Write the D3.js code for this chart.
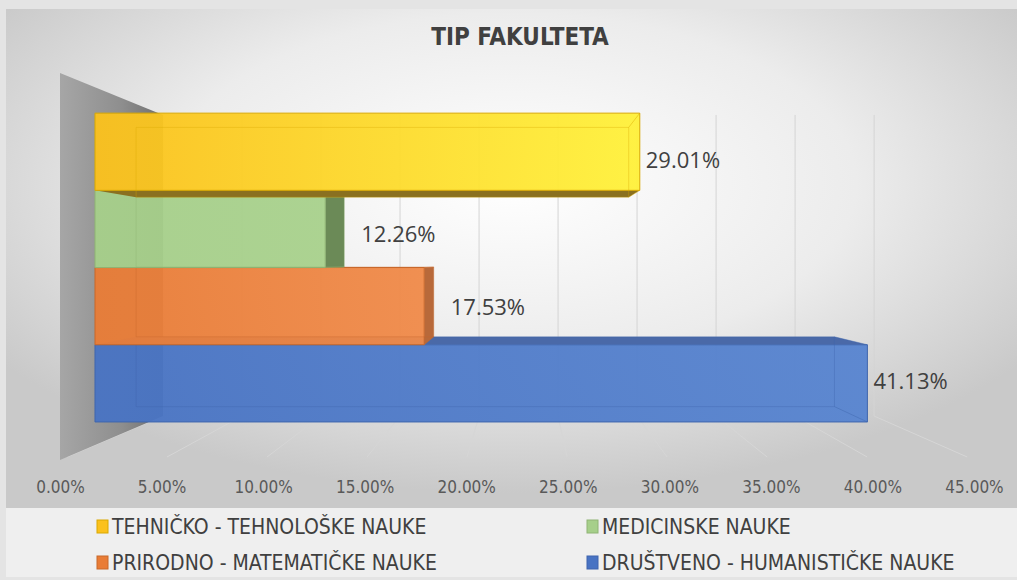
<!DOCTYPE html>
<html>
<head>
<meta charset="utf-8">
<script src="https://cdn.jsdelivr.net/npm/d3@7"></script>
<style>
  body { margin: 0; background: #e4e4e4; }
  svg { display: block; }
  .tick text { font-family: "Liberation Sans Narrow", "DejaVu Sans Condensed", "Open Sans", sans-serif; }
</style>
</head>
<body>
<div id="chart"></div>
<script>
const categories = [
  "TEHNIČKO - TEHNOLOŠKE NAUKE",
  "MEDICINSKE NAUKE",
  "PRIRODNO - MATEMATIČKE NAUKE",
  "DRUŠTVENO - HUMANISTIČKE NAUKE"
];
const values = [29.01, 12.26, 17.53, 41.13];
const tickValues = [0, 5, 10, 15, 20, 25, 30, 35, 40, 45];
const title = "TIP FAKULTETA";

// styling per series
const palette = [
  { left: "#fbc11c", right: "#fff13a", side: "#c8a816", cap: "#8a7020", edge: "#d9a800" },
  { left: "#a6cf8a", right: "#a8d18c", side: "#6b8a57", cap: "#86a86e", edge: "#8fb474" },
  { left: "#e97c36", right: "#f08a49", side: "#b8693a", cap: "#c06a30", edge: "#c8682a" },
  { left: "#4873c3", right: "#5784d0", side: "#4a6cb0", cap: "#4a69a8", edge: "#3f65ad" }
];

const W = 1017, H = 580;
// perspective: eye point and relative depth of each plane (1 = label plane)
const vx = 524, vy = 262;
const fFront = 0.9246, fBack = 0.836, fWall = 0.778;

const svg = d3.select("#chart")
  .append("svg")
  .attr("width", W)
  .attr("height", H);

const defs = svg.append("defs");

const bg = defs.append("radialGradient")
  .attr("id", "bg")
  .attr("cx", "50%").attr("cy", "35%").attr("r", "62%");
bg.append("stop").attr("offset", "0%").attr("stop-color", "#ffffff");
bg.append("stop").attr("offset", "55%").attr("stop-color", "#ececec");
bg.append("stop").attr("offset", "100%").attr("stop-color", "#c9c9c9");

const wallGrad = defs.append("linearGradient")
  .attr("id", "wall")
  .attr("x1", "0%").attr("x2", "100%").attr("y1", "0%").attr("y2", "0%");
wallGrad.append("stop").attr("offset", "0%").attr("stop-color", "#a6a6a6");
wallGrad.append("stop").attr("offset", "60%").attr("stop-color", "#8e8e8e");
wallGrad.append("stop").attr("offset", "100%").attr("stop-color", "#6e6e6e");

palette.forEach(function(p, i) {
  const g = defs.append("linearGradient")
    .attr("id", "bar" + i)
    .attr("x1", "0%").attr("x2", "100%").attr("y1", "0%").attr("y2", "0%");
  g.append("stop").attr("offset", "0%").attr("stop-color", p.left);
  g.append("stop").attr("offset", "100%").attr("stop-color", p.right);
});

// backgrounds
svg.append("rect")
  .attr("x", 6).attr("y", 9)
  .attr("width", W - 6).attr("height", 499)
  .attr("fill", "url(#bg)");

svg.append("rect")
  .attr("x", 6).attr("y", 508)
  .attr("width", W - 6).attr("height", 69)
  .attr("fill", "#efefef");

// scales in the label plane
const xScale = d3.scaleLinear().domain([0, 45]).range([60, 974]);
const yScale = d3.scaleBand().domain(categories).range([101, 435]).padding(0);
const wallTop = 73, wallBottom = 460;

function P(v, Y, f) {
  return [vx + f * (xScale(v) - vx), vy + f * (Y - vy)];
}
function poly(pts) {
  return pts.map(p => p.join(",")).join(" ");
}

// back wall gridlines
svg.append("g")
  .selectAll("line")
  .data(tickValues)
  .join("line")
  .attr("x1", d => P(d, wallTop, fWall)[0])
  .attr("y1", d => P(d, wallTop, fWall)[1])
  .attr("x2", d => P(d, wallBottom, fWall)[0])
  .attr("y2", d => P(d, wallBottom, fWall)[1])
  .attr("stroke", "#d4d4d4")
  .attr("stroke-width", 1);

// floor gridlines
svg.append("g")
  .selectAll("line")
  .data(tickValues)
  .join("line")
  .attr("x1", d => P(d, wallBottom, fWall)[0])
  .attr("y1", d => P(d, wallBottom, fWall)[1])
  .attr("x2", d => P(d, wallBottom, 0.985)[0])
  .attr("y2", d => P(d, wallBottom, 0.985)[1])
  .attr("stroke", "#d6d6d6")
  .attr("stroke-width", 1);

// side wall
svg.append("polygon")
  .attr("points", poly([
    P(0, wallTop, 1), P(0, wallTop, fWall),
    P(0, wallBottom, fWall), P(0, wallBottom, 1)
  ]))
  .attr("fill", "url(#wall)");

// bars, drawn from the bottom one up so upper caps lie on top
const order = d3.range(categories.length).reverse();
const bars = svg.append("g");

order.forEach(function(i) {
  const v = values[i];
  const c = categories[i];
  const p = palette[i];
  const Y0 = yScale(c), Y1 = Y0 + yScale.bandwidth();
  const g = bars.append("g");

  if (Y0 > vy) {
    g.append("polygon")
      .attr("points", poly([P(0, Y0, fFront), P(v, Y0, fFront), P(v, Y0, fBack), P(0, Y0, fBack)]))
      .attr("fill", p.cap);
  }
  if (Y1 < vy) {
    g.append("polygon")
      .attr("points", poly([P(0, Y1, fFront), P(v, Y1, fFront), P(v, Y1, fBack), P(0, Y1, fBack)]))
      .attr("fill", p.cap);
  }
  if (xScale(v) < vx) {
    g.append("polygon")
      .attr("points", poly([P(v, Y0, fFront), P(v, Y0, fBack), P(v, Y1, fBack), P(v, Y1, fFront)]))
      .attr("fill", p.side);
  }

  g.append("polygon")
    .attr("points", poly([P(0, Y0, fFront), P(v, Y0, fFront), P(v, Y1, fFront), P(0, Y1, fFront)]))
    .attr("fill", "url(#bar" + i + ")")
    .attr("fill-opacity", 0.95)
    .attr("stroke", p.edge)
    .attr("stroke-width", 1);

  // back edges seen through the face
  g.append("polygon")
    .attr("points", poly([P(0, Y0, fBack), P(v, Y0, fBack), P(v, Y1, fBack), P(0, Y1, fBack)]))
    .attr("fill", "none")
    .attr("stroke", p.edge)
    .attr("stroke-opacity", 0.35);
  [Y0, Y1].forEach(function(y) {
    g.append("line")
      .attr("x1", P(v, y, fFront)[0]).attr("y1", P(v, y, fFront)[1])
      .attr("x2", P(v, y, fBack)[0]).attr("y2", P(v, y, fBack)[1])
      .attr("stroke", p.edge)
      .attr("stroke-opacity", 0.45);
  });
});

// data labels
svg.append("g")
  .selectAll("text")
  .data(categories)
  .join("text")
  .attr("x", (c, i) => Math.max(P(values[i], 0, fBack)[0] + 17, P(values[i], 0, fFront)[0] + 6))
  .attr("y", (c, i) => P(0, yScale(c) + yScale.bandwidth() / 2, 0.88)[1] + 2)
  .attr("dominant-baseline", "central")
  .style("font-family", "'Open Sans', sans-serif")
  .style("font-size", "22px")
  .attr("fill", "#404040")
  .text((c, i) => values[i].toFixed(2) + "%");

// value axis
const axis = svg.append("g")
  .attr("transform", "translate(0, 478)")
  .call(d3.axisBottom(xScale).tickValues(tickValues).tickSize(0).tickFormat(d => d.toFixed(2) + "%"));
axis.select(".domain").remove();
axis.selectAll("text")
  .style("font-size", "17px")
  .attr("fill", "#595959");

// title
svg.append("text")
  .attr("x", 520)
  .attr("y", 37)
  .attr("text-anchor", "middle")
  .attr("dominant-baseline", "central")
  .style("font-family", "'Liberation Sans Narrow', 'DejaVu Sans Condensed', 'Open Sans', sans-serif")
  .style("font-weight", "bold")
  .style("font-size", "24px")
  .attr("fill", "#404040")
  .text(title);

// legend
const legendX = [97, 587];
const legendY = [526, 562];
const legend = svg.append("g")
  .selectAll("g")
  .data(categories)
  .join("g")
  .attr("transform", (c, i) => `translate(${legendX[i % 2]}, ${legendY[Math.floor(i / 2)]})`);

legend.append("rect")
  .attr("x", 0).attr("y", -6)
  .attr("width", 11).attr("height", 13)
  .attr("fill", (c, i) => palette[i].left)
  .attr("stroke", (c, i) => palette[i].edge)
  .attr("stroke-width", 1);

legend.append("text")
  .attr("x", 15)
  .attr("y", 1)
  .attr("dominant-baseline", "central")
  .style("font-family", "'Liberation Sans Narrow', 'DejaVu Sans Condensed', 'Open Sans', sans-serif")
  .style("font-size", "21px")
  .attr("fill", "#404040")
  .text(c => c);
</script>
</body>
</html>
